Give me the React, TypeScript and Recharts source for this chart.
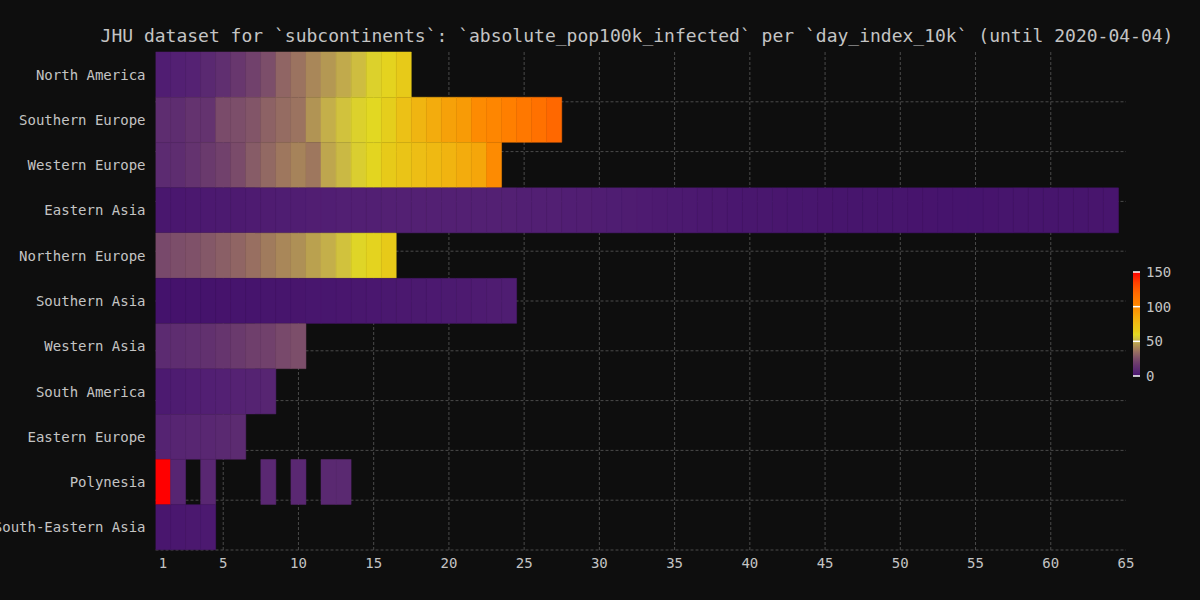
import React from 'react';
import { BarChart, Bar, XAxis, YAxis, CartesianGrid, Cell } from 'recharts';

const title = 'JHU dataset for `subcontinents`: `absolute_pop100k_infected` per `day_index_10k` (until 2020-04-04)';

const categories = [
  'North America',
  'Southern Europe',
  'Western Europe',
  'Eastern Asia',
  'Northern Europe',
  'Southern Asia',
  'Western Asia',
  'South America',
  'Eastern Europe',
  'Polynesia',
  'South-Eastern Asia',
];

const northAmerica = [3.5, 4.5, 5.5, 9, 12, 16, 20, 25, 32, 36, 41, 45, 49, 53, 58, 62, 66];
const southernEurope = [11, 11, 14, 14, 24, 25, 27, 31, 34, 36, 44, 50, 54, 58, 60, 64, 72, 79, 84, 89, 92, 100, 103, 107, 111, 115, 120];
const westernEurope = [10, 11, 14, 17, 20, 24, 29, 33, 37, 40, 37, 48, 52, 57, 61, 66, 70, 74, 77, 80, 84, 87, 100];
const easternAsia = [
  1.6, 1.8, 2.0, 2.3, 2.5, 2.7, 2.9, 3.1, 3.3, 3.5,
  3.7, 3.8, 4.0, 4.1, 4.2, 4.4, 4.5, 4.6, 4.6, 4.6,
  4.5, 4.5, 4.4, 4.3, 4.2, 4.1, 4.0, 3.8, 3.6, 3.5,
  3.3, 3.1, 2.9, 2.7, 2.5, 2.3, 2.1, 2.0, 1.8, 1.7,
  1.6, 1.5, 1.4, 1.3, 1.2, 1.15, 1.1, 1.05, 1.0, 1.0,
  0.95, 0.95, 0.9, 0.9, 0.9, 0.95, 1.0, 1.0, 1.05, 1.1,
  1.1, 1.15, 1.2, 1.25,
];
const northernEurope = [23, 25, 26, 28, 30, 32, 35, 38, 41, 43, 47, 50, 54, 59, 62, 66];
const southernAsia = [0.3, 0.4, 0.5, 0.6, 0.7, 0.8, 0.9, 1.0, 1.1, 1.2, 1.3, 1.4, 1.5, 1.7, 1.8, 1.9, 2.1, 2.2, 2.4, 2.5, 2.7, 2.9, 3.1, 3.3];
const westernAsia = [10, 11, 12, 13, 15, 17, 19, 20, 23, 25];
const southAmerica = [2.5, 3, 3.5, 4, 4.5, 5.5, 6, 7];
const easternEurope = [6, 7, 7.5, 8, 9, 10];
const polynesia: (number | null)[] = [150, 7, null, 8, null, null, null, 8.5, null, 8.5, null, 9, 9];
const southEasternAsia = [1.5, 1.8, 2.0, 2.3];

const seriesByCategory: (number | null)[][] = [
  northAmerica,
  southernEurope,
  westernEurope,
  easternAsia,
  northernEurope,
  southernAsia,
  westernAsia,
  southAmerica,
  easternEurope,
  polynesia,
  southEasternAsia,
];

const xTicks = [1, 5, 10, 15, 20, 25, 30, 35, 40, 45, 50, 55, 60, 65];
const gridXTicks = [5, 10, 15, 20, 25, 30, 35, 40, 45, 50, 55, 60];
const gridYTicks = [1, 2, 3, 4, 5, 6, 7, 8, 9, 10];
const colorbarTicks = [0, 50, 100, 150];

const colorStops: [number, string][] = [
  [0, '#43116b'],
  [4, '#521f73'],
  [10, '#5c2b71'],
  [15, '#66356e'],
  [20, '#71416c'],
  [25, '#7c4e6a'],
  [30, '#8a5f66'],
  [35, '#986f61'],
  [40, '#a6835a'],
  [45, '#b49853'],
  [50, '#c4af4a'],
  [55, '#d4c73a'],
  [60, '#e2d822'],
  [65, '#e6cb1a'],
  [75, '#eebd14'],
  [85, '#f4aa0c'],
  [95, '#fa9404'],
  [105, '#ff8200'],
  [120, '#ff6800'],
  [135, '#ff4000'],
  [150, '#ff0000'],
];

const hexToRgb = (h: string) => [1, 3, 5].map((i) => parseInt(h.slice(i, i + 2), 16));
const colorFor = (v: number | null | undefined): string => {
  if (v === null || v === undefined) return 'transparent';
  const c = Math.max(0, Math.min(150, v));
  for (let i = 1; i < colorStops.length; i++) {
    const [v1, c1] = colorStops[i];
    if (c <= v1) {
      const [v0, c0] = colorStops[i - 1];
      const t = (c - v0) / (v1 - v0);
      const a = hexToRgb(c0);
      const b = hexToRgb(c1);
      const m = a.map((x, k) => Math.round(x + (b[k] - x) * t));
      return `rgb(${m[0]},${m[1]},${m[2]})`;
    }
  }
  return colorStops[colorStops.length - 1][1];
};

const MAX_DAYS = Math.max(...seriesByCategory.map((s) => s.length));
const dayKeys = Array.from({ length: MAX_DAYS }, (_, i) => `d${i + 1}`);

const data = categories.map((name, r) => {
  const vals = seriesByCategory[r];
  const row: Record<string, number | string> = { name, base: 0.5 };
  dayKeys.forEach((k, i) => {
    row[k] = i < vals.length ? 1 : 0;
  });
  return row;
});

const FONT = '"DejaVu Sans Mono", "Liberation Mono", monospace';
const TEXT = '#c4c4c4';
const BG = '#0e0e0e';

const CB_X = 1133;
const CB_TOP = 272;
const CB_BOTTOM = 376;
const CB_W = 7;

export default function App() {
  return (
    <div style={{ position: 'absolute', left: 0, top: 0, width: 1200, height: 600, background: BG, overflow: 'hidden' }}>
      <BarChart
        width={1200}
        height={600}
        data={data}
        layout="vertical"
        barCategoryGap={0}
        barGap={0}
        margin={{ top: 52, right: 74, left: 5.5, bottom: 20 }}
      >
        <CartesianGrid xAxisId="gridx" yAxisId="gridy" syncWithTicks stroke="#4a4a4a" strokeDasharray="3 2" />
        <XAxis
          type="number"
          domain={[0.5, 65]}
          ticks={xTicks}
          interval={0}
          allowDataOverflow
          axisLine={false}
          tickLine={false}
          height={30}
          tick={{ fill: TEXT, fontSize: 14, fontFamily: FONT }}
        />
        <XAxis xAxisId="gridx" type="number" domain={[0.5, 65]} ticks={gridXTicks} interval={0} allowDataOverflow hide />
        <YAxis
          type="category"
          dataKey="name"
          width={150}
          interval={0}
          axisLine={false}
          tickLine={false}
          tickMargin={4}
          tick={{ fill: TEXT, fontSize: 14, fontFamily: FONT }}
        />
        <YAxis yAxisId="gridy" type="number" domain={[0, 11]} ticks={gridYTicks} interval={0} hide />
        <Bar dataKey="base" stackId="s" fill="transparent" isAnimationActive={false} />
        {dayKeys.map((k, i) => (
          <Bar key={k} dataKey={k} stackId="s" isAnimationActive={false}>
            {data.map((_, r) => {
              const fill = colorFor(seriesByCategory[r][i]);
              return <Cell key={r} fill={fill} stroke={fill} strokeWidth={0.5} />;
            })}
          </Bar>
        ))}
      </BarChart>
      <svg width={1200} height={600} style={{ position: 'absolute', left: 0, top: 0, pointerEvents: 'none' }}>
        <defs>
          <linearGradient id="cbgrad" x1="0" y1="1" x2="0" y2="0">
            {colorStops.map(([v, c]) => (
              <stop key={v} offset={v / 150} stopColor={c} />
            ))}
          </linearGradient>
        </defs>
        <text x={637} y={42} textAnchor="middle" fill={TEXT} fontSize={18} fontFamily={FONT}>
          {title}
        </text>
        <rect x={CB_X} y={CB_TOP} width={CB_W} height={CB_BOTTOM - CB_TOP} fill="url(#cbgrad)" />
        {colorbarTicks.map((t) => {
          const y = CB_BOTTOM - (t / 150) * (CB_BOTTOM - CB_TOP);
          return (
            <g key={t}>
              <line x1={CB_X} x2={CB_X + CB_W} y1={y} y2={y} stroke="#ffffff" strokeWidth={1.5} />
              <text x={CB_X + 13} y={y} dy="0.35em" fill={TEXT} fontSize={14} fontFamily={FONT}>
                {t}
              </text>
            </g>
          );
        })}
      </svg>
    </div>
  );
}
